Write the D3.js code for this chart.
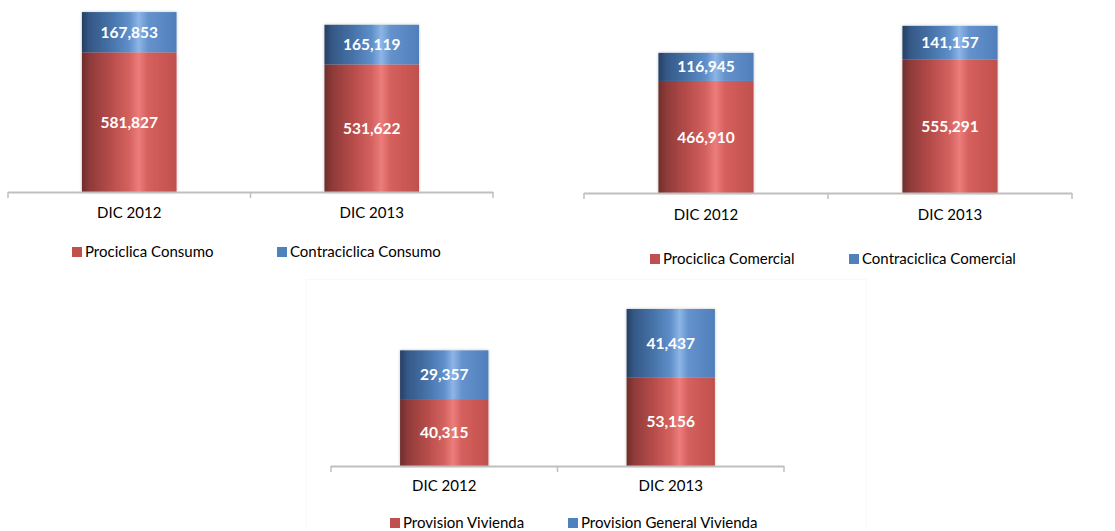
<!DOCTYPE html>
<html><head><meta charset="utf-8">
<script src="https://cdn.jsdelivr.net/npm/d3@7"></script>
<style>body{margin:0;background:#fff}svg{display:block}text{font-family:Lato,"Open Sans",sans-serif}</style>
</head><body>
<svg id="c" width="1115" height="531"></svg>
<script>
const categories = ["DIC 2012", "DIC 2013"];
const consumoPro = [581827, 531622];
const consumoContra = [167853, 165119];
const comercialPro = [466910, 555291];
const comercialContra = [116945, 141157];
const viviendaPro = [40315, 53156];
const viviendaGen = [29357, 41437];
const legend1 = ["Prociclica Consumo", "Contraciclica Consumo"];
const legend2 = ["Prociclica Comercial", "Contraciclica Comercial"];
const legend3 = ["Provision Vivienda", "Provision General Vivienda"];
const yMaxTop = 800000;
const yMaxBottom = 100000;

const svg = d3.select("#c");
const defs = svg.append("defs");
function grad(id, stops){
  const g = defs.append("linearGradient").attr("id", id).attr("x1","0").attr("x2","1").attr("y1","0").attr("y2","0");
  stops.forEach(s => g.append("stop").attr("offset", s[0]).attr("stop-color", s[1]));
}
grad("gRed", [[0,"#6f2d2c"],[0.08,"#8e3a39"],[0.3,"#b64c4a"],[0.5,"#d4625f"],[0.6,"#ec7d7b"],[0.7,"#d5605d"],[1,"#c0504d"]]);
grad("gBlue", [[0,"#253f63"],[0.08,"#345886"],[0.3,"#4672a8"],[0.5,"#5f8fca"],[0.6,"#8db5e6"],[0.7,"#6592cc"],[1,"#4f7fbb"]]);
const f = defs.append("filter").attr("id","sh").attr("x","-10%").attr("y","-10%").attr("width","120%").attr("height","120%");
f.append("feGaussianBlur").attr("in","SourceAlpha").attr("stdDeviation",1.5).attr("result","b");
f.append("feComponentTransfer").attr("in","b").attr("result","t").append("feFuncA").attr("type","linear").attr("slope",0.25);
const m = f.append("feMerge"); m.append("feMergeNode").attr("in","t"); m.append("feMergeNode").attr("in","SourceGraphic");

// faint frame for bottom panel
svg.append("rect").attr("x",306.5).attr("y",279.5).attr("width",560).attr("height",260).attr("fill","none").attr("stroke","#f9f9f9");

const fmt = d3.format(",");

function panel(o){
  const x = d3.scaleBand().domain(categories).range([o.x0, o.x1]).paddingInner(0.61).paddingOuter(0.305);
  const y = d3.scaleLinear().domain([0, o.ymax]).range([o.axisY, o.topY]);
  const g = svg.append("g");
  const stack = categories.map((c,i)=>({c, a:o.s1[i], b:o.s2[i]}));
  const bars = g.selectAll("g.bar").data(stack).join("g").attr("filter","url(#sh)");
  bars.append("rect").attr("x",d=>x(d.c)).attr("width",x.bandwidth())
    .attr("y",d=>y(d.a)).attr("height",d=>y(0)-y(d.a)).attr("fill","url(#gRed)");
  bars.append("rect").attr("x",d=>x(d.c)).attr("width",x.bandwidth())
    .attr("y",d=>y(d.a+d.b)).attr("height",d=>y(d.a)-y(d.a+d.b)).attr("fill","url(#gBlue)");
  g.selectAll("text.v1").data(stack).join("text").attr("class","v1")
    .attr("x",d=>x(d.c)+x.bandwidth()/2).attr("y",d=>y(d.a/2)).attr("dy","0.36em")
    .attr("text-anchor","middle").attr("fill","#fff").attr("font-weight","bold").attr("font-size",15.5)
    .text(d=>fmt(d.a));
  g.selectAll("text.v2").data(stack).join("text").attr("class","v2")
    .attr("x",d=>x(d.c)+x.bandwidth()/2).attr("y",d=>y(d.a+d.b/2)).attr("dy","0.36em")
    .attr("text-anchor","middle").attr("fill","#fff").attr("font-weight","bold").attr("font-size",15.5)
    .text(d=>fmt(d.b));
  // axis
  const ax = g.append("g").attr("transform",`translate(0,${o.axisY})`);
  ax.append("line").attr("x1",o.x0).attr("x2",o.x1).attr("y1",0.5).attr("y2",0.5).attr("stroke","#bfbfbf").attr("stroke-width",2);
  const step = x.step();
  const tickXs = d3.range(categories.length+1).map(i=>o.x0 + i*step);
  ax.selectAll("line.t").data(tickXs).join("line").attr("class","t")
    .attr("x1",d=>d).attr("x2",d=>d).attr("y1",0).attr("y2",6).attr("stroke","#bfbfbf").attr("stroke-width",1.5);
  ax.selectAll("text").data(categories).join("text")
    .attr("x",d=>x(d)+x.bandwidth()/2).attr("y",o.labY-o.axisY).attr("dy","0.36em")
    .attr("text-anchor","middle").attr("fill","#000").attr("font-size",15).text(d=>d);
  // legend
  const lg = g.append("g");
  o.leg.forEach((name,i)=>{
    lg.append("rect").attr("x",o.legX[i]).attr("y",o.legY-5).attr("width",10).attr("height",10)
      .attr("fill", i===0 ? "#c0504d" : "#4f81bd");
    lg.append("text").attr("x",o.legX[i]+13).attr("y",o.legY).attr("dy","0.36em")
      .attr("font-size",15).attr("fill","#000").text(name);
  });
}

panel({x0:8, x1:493, axisY:192, topY:0, ymax:yMaxTop, s1:consumoPro, s2:consumoContra, labY:213, leg:legend1, legX:[72,277], legY:252});
panel({x0:584, x1:1072, axisY:193, topY:1, ymax:yMaxTop, s1:comercialPro, s2:comercialContra, labY:215, leg:legend2, legX:[650,849], legY:259});
panel({x0:331, x1:784, axisY:466, topY:300, ymax:yMaxBottom, s1:viviendaPro, s2:viviendaGen, labY:486, leg:legend3, legX:[390,568], legY:523});
</script>
</body></html>
